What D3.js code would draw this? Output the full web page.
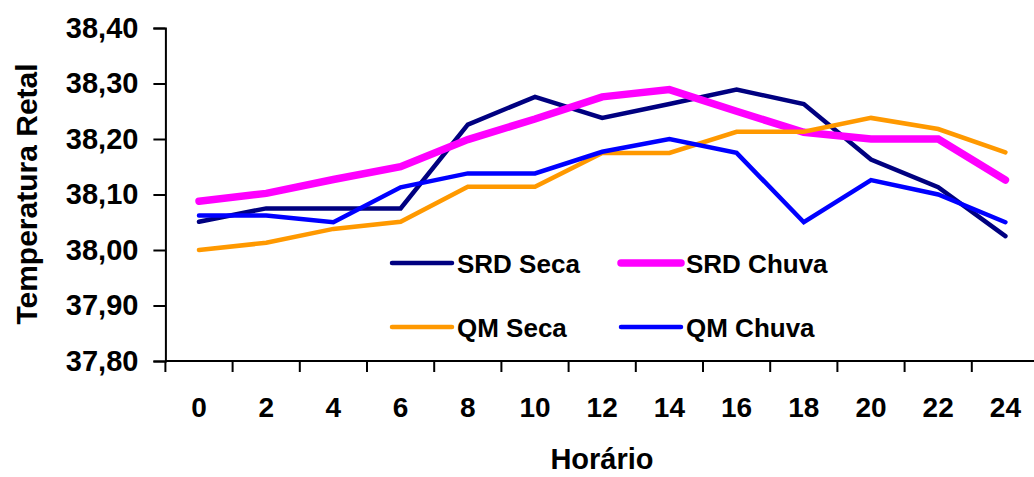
<!DOCTYPE html>
<html>
<head>
<meta charset="utf-8">
<script src="https://d3js.org/d3.v7.min.js"></script>
<style>
  body { margin: 0; background: #fff; }
  svg { display: block; font-family: "Liberation Sans", Arial, sans-serif; font-weight: bold; }
</style>
</head>
<body>
<script>
// hours on the x axis (categories)
let horas = [0, 2, 4, 6, 8, 10, 12, 14, 16, 18, 20, 22, 24];

// series values
let srdSeca  = [38.051, 38.075, 38.075, 38.075, 38.226, 38.276, 38.238, 38.263, 38.289, 38.263, 38.163, 38.113, 38.025];
let srdChuva = [38.088, 38.102, 38.127, 38.150, 38.199, 38.236, 38.276, 38.289, 38.250, 38.212, 38.200, 38.200, 38.126];
let qmSeca   = [38.000, 38.013, 38.038, 38.051, 38.114, 38.114, 38.175, 38.175, 38.213, 38.213, 38.238, 38.218, 38.176];
let qmChuva  = [38.062, 38.062, 38.050, 38.113, 38.138, 38.138, 38.177, 38.200, 38.175, 38.050, 38.126, 38.100, 38.050];

let yTicks = [37.8, 37.9, 38.0, 38.1, 38.2, 38.3, 38.4];

let series = [
    { name: "SRD Seca",  values: srdSeca,  color: "#000080", width: 4.5 },
    { name: "SRD Chuva", values: srdChuva, color: "#FF00FF", width: 7.5 },
    { name: "QM Seca",   values: qmSeca,   color: "#FF9900", width: 4.5 },
    { name: "QM Chuva",  values: qmChuva,  color: "#0000FF", width: 4.5 }
];

let svgWidth = 1034, svgHeight = 477;
let plotLeft = 165.4, plotTop = 28, plotBottom = 361, step = 67.2;

let svg = d3.select("body")
    .append("svg")
    .attr("width", svgWidth)
    .attr("height", svgHeight);

// category scale for hours, y linear for temperature
let xScale = d3.scaleBand()
    .domain(horas)
    .range([plotLeft, plotLeft + step * horas.length]);

let yScale = d3.scaleLinear()
    .domain([37.8, 38.4])
    .range([plotBottom, plotTop]);

let fmt = d3.format(".2f");

// y axis
let yAxis = d3.axisLeft(yScale)
    .tickValues(yTicks)
    .tickSize(12)
    .tickPadding(15)
    .tickFormat(d => fmt(d).replace(".", ","));

let gy = svg.append("g")
    .attr("class", "y-axis")
    .attr("transform", "translate(" + plotLeft + ",0)")
    .call(yAxis);
gy.select(".domain").attr("stroke", "#000").attr("stroke-width", 2);
gy.selectAll(".tick line").attr("stroke", "#000").attr("stroke-width", 2);
gy.selectAll(".tick text")
    .attr("fill", "#000")
    .style("font-size", "29px")
    .style("font-weight", "bold")
    .attr("dy", "0.32em");

// x axis: labels at category centres
let xAxis = d3.axisBottom(xScale)
    .tickSize(0)
    .tickPadding(36);

let gx = svg.append("g")
    .attr("class", "x-axis")
    .attr("transform", "translate(0," + plotBottom + ")")
    .call(xAxis);
gx.select(".domain").remove();
gx.selectAll(".tick text")
    .attr("fill", "#000")
    .style("font-size", "28px")
    .style("font-weight", "bold");

gx.append("line")
    .attr("x1", plotLeft).attr("x2", svgWidth + 10)
    .attr("y1", 0).attr("y2", 0)
    .attr("stroke", "#000").attr("stroke-width", 2);

// tick marks between categories
let bounds = horas.map(h => xScale(h)).concat([xScale.range()[1]]);
gx.selectAll(".bound")
    .data(bounds)
    .enter().append("line")
    .attr("class", "bound")
    .attr("x1", d => d).attr("x2", d => d)
    .attr("y1", 0).attr("y2", 11)
    .attr("stroke", "#000").attr("stroke-width", 2);

// lines
let lineGenerator = d3.line()
    .x((d, i) => xScale(horas[i]) + xScale.bandwidth() / 2)
    .y(d => yScale(d));

svg.selectAll(".serie")
    .data(series)
    .enter().append("path")
    .attr("class", "serie")
    .attr("fill", "none")
    .attr("stroke", d => d.color)
    .attr("stroke-width", d => d.width)
    .attr("stroke-linejoin", "miter")
    .attr("stroke-linecap", "round")
    .attr("d", d => lineGenerator(d.values));

// legend, 2 x 2
let legendPos = [[392, 263], [621, 263], [392, 327], [621, 327]];
let legend = svg.selectAll(".legend")
    .data(series)
    .enter().append("g")
    .attr("class", "legend")
    .attr("transform", (d, i) => "translate(" + legendPos[i][0] + "," + legendPos[i][1] + ")");

legend.append("line")
    .attr("x1", 0).attr("x2", 60)
    .attr("stroke", d => d.color)
    .attr("stroke-width", d => d.width)
    .attr("stroke-linecap", "round");

legend.append("text")
    .attr("x", 65)
    .attr("y", 10)
    .style("font-size", "26px")
    .text(d => d.name);

// axis titles
svg.append("text")
    .attr("transform", "translate(37,194) rotate(-90)")
    .attr("text-anchor", "middle")
    .style("font-size", "30px")
    .text("Temperatura Retal");

svg.append("text")
    .attr("x", 602)
    .attr("y", 469)
    .attr("text-anchor", "middle")
    .style("font-size", "29px")
    .text("Horário");
</script>
</body>
</html>
